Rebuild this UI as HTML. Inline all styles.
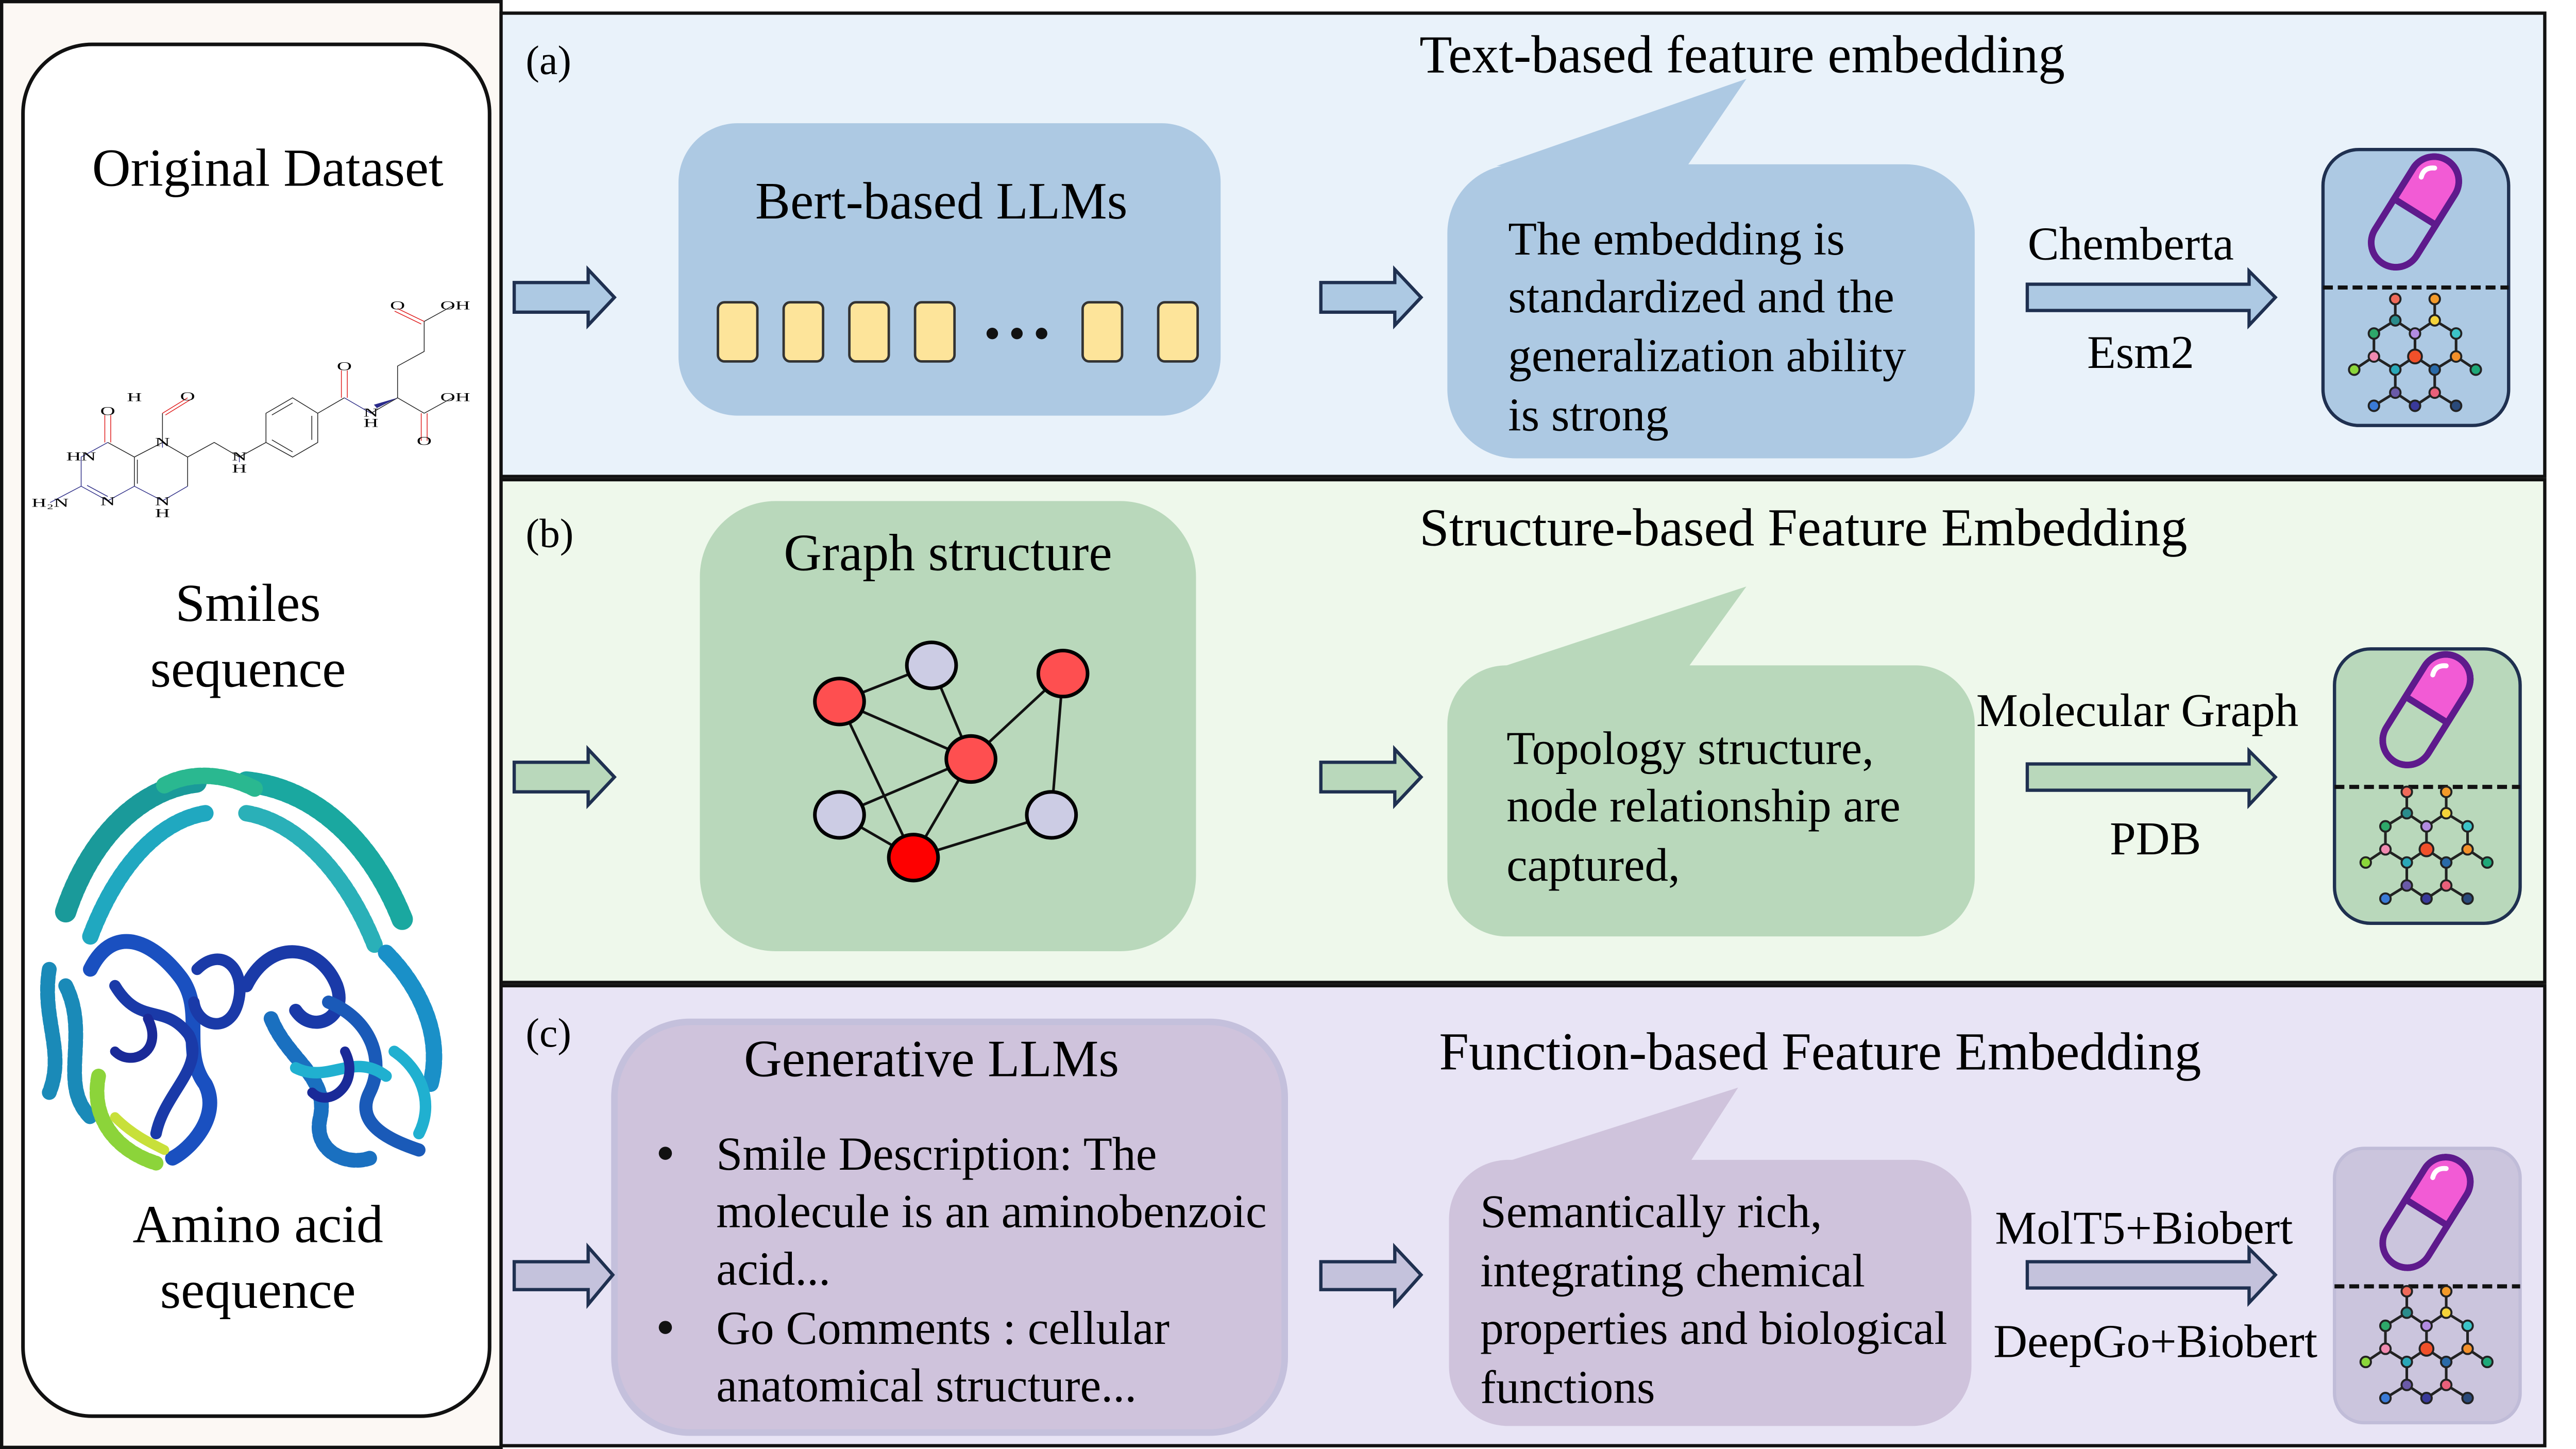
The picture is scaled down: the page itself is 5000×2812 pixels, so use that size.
<!DOCTYPE html>
<html><head><meta charset="utf-8"><style>
html,body{margin:0;padding:0;background:#fff;}
svg{display:block}
text{font-family:"Liberation Serif","Times New Roman",serif;fill:#000}
</style></head><body>
<svg width="5000" height="2812" viewBox="0 0 1568 882" preserveAspectRatio="none" xmlns="http://www.w3.org/2000/svg">
<defs>
<g id="pill">
 <rect x="-37" y="-15" width="74" height="30" rx="15" fill="none" stroke="#5e1a8c" stroke-width="4"/>
 <path d="M0,-15 H22 A15,15 0 0 1 22,15 H0 Z" fill="#f25bd5" stroke="#5e1a8c" stroke-width="4"/>
 <rect x="-37" y="-15" width="74" height="30" rx="15" fill="none" stroke="#5e1a8c" stroke-width="4"/>
 <path d="M20,-8 q6,-2 9,4" fill="none" stroke="#fff" stroke-width="3" stroke-linecap="round"/>
</g>
<g id="mol" stroke="#222" stroke-width="1.6">
 <path d="M-12,-40 V-27 M12,-40 V-27 M-12,-27 L-25,-19 M-12,-27 L0,-19 M12,-27 L0,-19 M12,-27 L25,-19 M-25,-19 V-5 M0,-19 V-5 M25,-19 V-5 M-25,-5 L-12,3 M0,-5 L-12,3 M0,-5 L12,3 M25,-5 L12,3 M-25,-5 L-37,3 M25,-5 L37,3 M-12,3 V17 M12,3 V17 M-12,17 L0,25 M12,17 L0,25 M-12,17 L-25,25 M12,17 L25,25" fill="none"/>
 <g stroke-width="1.2">
 <circle cx="-12" cy="-40" r="3.2" fill="#f06a5a"/><circle cx="12" cy="-40" r="3.2" fill="#f39a2a"/>
 <circle cx="-12" cy="-27" r="3.2" fill="#2a8c8c"/><circle cx="12" cy="-27" r="3.2" fill="#f5d33a"/>
 <circle cx="-25" cy="-19" r="3.2" fill="#2ea86a"/><circle cx="0" cy="-19" r="3.2" fill="#b28be0"/><circle cx="25" cy="-19" r="3.2" fill="#3cc3c8"/>
 <circle cx="-25" cy="-5" r="3.2" fill="#f08ab0"/><circle cx="0" cy="-5" r="4.2" fill="#f0502a"/><circle cx="25" cy="-5" r="3.2" fill="#f3902a"/>
 <circle cx="-37" cy="3" r="3.2" fill="#8bd63a"/><circle cx="-12" cy="3" r="3.2" fill="#2aa8b8"/><circle cx="12" cy="3" r="3.2" fill="#2a6aa8"/><circle cx="37" cy="3" r="3.2" fill="#1ea878"/>
 <circle cx="-12" cy="17" r="3.2" fill="#6a5aa8"/><circle cx="12" cy="17" r="3.2" fill="#e8607a"/>
 <circle cx="-25" cy="25" r="3.2" fill="#3a7ad6"/><circle cx="0" cy="25" r="3.2" fill="#3a3a9a"/><circle cx="25" cy="25" r="3.2" fill="#2a4a7a"/>
 </g>
</g>
</defs>

<!-- left column -->
<rect x="1" y="1" width="304" height="880" fill="#fcf8f4" stroke="#111" stroke-width="2"/>
<rect x="14" y="27" width="284" height="835" rx="42" fill="#fff" stroke="#111" stroke-width="2.2"/>
<text x="163" y="113" font-size="32.5" text-anchor="middle">Original Dataset</text>
<text x="151" y="378" font-size="32.5" text-anchor="middle">Smiles</text>
<text x="151" y="418" font-size="32.5" text-anchor="middle">sequence</text>
<text x="157" y="756" font-size="32.5" text-anchor="middle">Amino acid</text>
<text x="157" y="796" font-size="32.5" text-anchor="middle">sequence</text>

<!-- molecule -->
<g transform="translate(12.5,169) scale(0.18,0.1045)" fill="none">
 <path stroke="#222" stroke-width="1.5" vector-effect="non-scaling-stroke" d="M295,960 L385,1045 L385,1215 M395,1060 L395,1200 M385,1045 L480,960 M480,960 L565,1045 L565,1215 M480,960 L480,790 M565,1045 L655,960 L740,1045 M740,1045 L830,960 L830,790 L920,700 L1005,790 L1005,960 L920,1045 L830,960 M850,800 L920,730 M985,805 L985,945 M850,945 L920,1015 M1005,790 L1095,700 M1185,790 L1275,700 L1275,515 L1365,430 L1365,255 M1275,700 L1365,790 M1365,255 L1460,165 M1365,790 L1460,700"/>
 <path stroke="#33338a" stroke-width="1.5" vector-effect="non-scaling-stroke" d="M295,960 L205,1045 L205,1215 L295,1300 L385,1215 M225,1210 L295,1275 M205,1215 L100,1310 M385,1215 L480,1300 L565,1215 M1095,700 L1185,790 M480,960 L480,990 M740,1045 L740,1075"/>
 <path stroke="#e02020" stroke-width="1.5" vector-effect="non-scaling-stroke" d="M285,960 L285,800 M305,960 L305,800 M480,790 L565,700 M490,800 L575,710 M1085,700 L1085,540 M1105,700 L1105,540 M1365,255 L1275,180 M1355,270 L1265,195 M1355,790 L1355,950 M1375,790 L1375,950"/>
 <path d="M1275,700 L1205,760 L1195,740 Z" fill="#2a2a8a"/>
 <g font-size="70" stroke="none">
  <text x="295" y="800" fill="#e02020" text-anchor="middle">O</text>
  <text x="565" y="715" fill="#e02020" text-anchor="middle">O</text>
  <text x="385" y="720" fill="#333" text-anchor="middle">H</text>
  <text x="1095" y="540" fill="#e02020" text-anchor="middle">O</text>
  <text x="1275" y="185" fill="#e02020" text-anchor="middle">O</text>
  <text x="1470" y="185" fill="#e02020" text-anchor="middle">OH</text>
  <text x="1470" y="720" fill="#e02020" text-anchor="middle">OH</text>
  <text x="1365" y="975" fill="#e02020" text-anchor="middle">O</text>
  <text x="205" y="1065" fill="#33338a" text-anchor="middle">HN</text>
  <text x="100" y="1335" fill="#33338a" text-anchor="middle">H₂N</text>
  <text x="295" y="1325" fill="#33338a" text-anchor="middle">N</text>
  <text x="480" y="1325" fill="#33338a" text-anchor="middle">N</text>
  <text x="480" y="1395" fill="#33338a" text-anchor="middle">H</text>
  <text x="480" y="980" fill="#33338a" text-anchor="middle">N</text>
  <text x="740" y="1065" fill="#33338a" text-anchor="middle">N</text>
  <text x="740" y="1135" fill="#33338a" text-anchor="middle">H</text>
  <text x="1185" y="810" fill="#33338a" text-anchor="middle">N</text>
  <text x="1185" y="870" fill="#33338a" text-anchor="middle">H</text>
 </g>
</g>

<!-- protein -->
<g fill="none" stroke-linecap="round" stroke-linejoin="round">
 <path d="M40,555 C55,510 85,480 120,476" stroke="#1a9a9a" stroke-width="13" stroke-dasharray="3 2"/>
 <path d="M150,476 C190,480 225,510 245,560" stroke="#1aa8a0" stroke-width="13" stroke-dasharray="3 2"/>
 <path d="M55,570 C70,530 95,500 125,495" stroke="#20a8c0" stroke-width="10" stroke-dasharray="3 2"/>
 <path d="M150,495 C180,500 210,530 228,575" stroke="#2ab0b8" stroke-width="10" stroke-dasharray="3 2"/>
 <path d="M100,478 C115,470 135,470 155,480" stroke="#2ab890" stroke-width="10" stroke-dasharray="3 2"/>
 <path d="M30,590 C25,620 40,640 30,665 M40,600 C55,630 35,660 55,680" stroke="#1a8ab8" stroke-width="9" stroke-dasharray="3 2"/>
 <path d="M55,590 C70,560 95,575 110,595 C125,615 110,640 125,660 C135,680 115,700 105,705" stroke="#1a50c0" stroke-width="9"/>
 <path d="M70,600 C85,625 100,610 115,630 C125,650 100,665 95,690" stroke="#1a3aa8" stroke-width="7"/>
 <path d="M60,655 C55,680 70,700 95,708" stroke="#8cd43a" stroke-width="9" stroke-dasharray="3 2"/>
 <path d="M70,680 C80,690 90,695 100,700" stroke="#c8e03a" stroke-width="6"/>
 <path d="M120,590 C135,575 150,590 145,610 C140,630 120,625 118,610" stroke="#1a3aa8" stroke-width="7"/>
 <path d="M150,600 C165,570 195,575 205,600 C212,620 190,630 180,615" stroke="#1a3aa8" stroke-width="8"/>
 <path d="M165,620 C175,645 200,655 195,680 C190,700 210,710 225,705" stroke="#1a70c0" stroke-width="9" stroke-dasharray="3 2"/>
 <path d="M200,610 C225,620 235,645 225,665 C215,685 240,695 255,700" stroke="#1a5ab8" stroke-width="8"/>
 <path d="M235,580 C255,600 270,630 262,660" stroke="#1a90c8" stroke-width="10" stroke-dasharray="3 2"/>
 <path d="M180,650 C200,660 215,640 235,655 M240,640 C255,650 265,670 255,690" stroke="#20b0d0" stroke-width="7"/>
 <path d="M90,620 C100,640 80,650 70,640 M210,640 C220,660 200,675 190,665" stroke="#1a2a98" stroke-width="6"/>
</g>

<!-- Panel a -->
<rect x="305" y="8" width="1244" height="282" fill="#e9f2fa" stroke="#111" stroke-width="2"/>
<text x="320" y="45" font-size="25">(a)</text>
<text x="864" y="44" font-size="32.5">Text-based feature embedding</text>
<rect x="413" y="75" width="330" height="178" rx="36" fill="#adc9e3"/>
<text x="573" y="133" font-size="32" text-anchor="middle">Bert-based LLMs</text>
<g fill="#fde49a" stroke="#333" stroke-width="1.5">
 <rect x="437" y="184" width="24" height="36" rx="4"/><rect x="477" y="184" width="24" height="36" rx="4"/>
 <rect x="517" y="184" width="24" height="36" rx="4"/><rect x="557" y="184" width="24" height="36" rx="4"/>
 <rect x="659" y="184" width="24" height="36" rx="4"/><rect x="705" y="184" width="24" height="36" rx="4"/>
</g>
<g fill="#111"><circle cx="604" cy="203" r="3.5"/><circle cx="619" cy="203" r="3.5"/><circle cx="634" cy="203" r="3.5"/></g>
<path d="M911,101 L1063,48 L1027,101 Z" fill="#adc9e3"/>
<rect x="881" y="100" width="321" height="179" rx="42" fill="#adc9e3"/>
<g font-size="28.6"><text x="918" y="155">The embedding is</text><text x="918" y="190">standardized and the</text><text x="918" y="226">generalization ability</text><text x="918" y="262">is strong</text></g>
<text x="1297" y="158" font-size="28.6" text-anchor="middle">Chemberta</text>
<text x="1303" y="224" font-size="28.6" text-anchor="middle">Esm2</text>

<!-- Panel b -->
<rect x="305" y="292" width="1244" height="306" fill="#eef8eb" stroke="#111" stroke-width="2"/>
<text x="320" y="333" font-size="25">(b)</text>
<text x="864" y="332" font-size="32.5">Structure-based Feature Embedding</text>
<rect x="426" y="305" width="302" height="274" rx="46" fill="#b9d8bb"/>
<text x="577" y="347" font-size="32" text-anchor="middle">Graph structure</text>
<g stroke="#111" stroke-width="1.6">
 <line x1="511" y1="427" x2="567" y2="405"/><line x1="511" y1="427" x2="591" y2="462"/><line x1="511" y1="427" x2="556" y2="522"/>
 <line x1="567" y1="405" x2="591" y2="462"/><line x1="591" y1="462" x2="647" y2="410"/><line x1="591" y1="462" x2="511" y2="496"/>
 <line x1="591" y1="462" x2="556" y2="522"/><line x1="647" y1="410" x2="640" y2="496"/><line x1="511" y1="496" x2="556" y2="522"/>
 <line x1="556" y1="522" x2="640" y2="496"/>
</g>
<g stroke="#000" stroke-width="2.2">
 <ellipse cx="567" cy="405" rx="15" ry="14" fill="#cccce4"/>
 <ellipse cx="511" cy="427" rx="15" ry="14" fill="#fe4f50"/>
 <ellipse cx="647" cy="410" rx="15" ry="14" fill="#fe4f50"/>
 <ellipse cx="591" cy="462" rx="15" ry="14" fill="#fe4f50"/>
 <ellipse cx="511" cy="496" rx="15" ry="14" fill="#cccce4"/>
 <ellipse cx="640" cy="496" rx="15" ry="14" fill="#cccce4"/>
 <ellipse cx="556" cy="522" rx="15" ry="14" fill="#fe0000"/>
</g>
<path d="M911,407 L1063,357 L1027,407 Z" fill="#b9d8bb"/>
<rect x="881" y="405" width="321" height="165" rx="36" fill="#b9d8bb"/>
<g font-size="28.6"><text x="917" y="465">Topology structure,</text><text x="917" y="500">node relationship are</text><text x="917" y="536">captured,</text></g>
<text x="1301" y="442" font-size="28.6" text-anchor="middle">Molecular Graph</text>
<text x="1312" y="520" font-size="28.6" text-anchor="middle">PDB</text>

<!-- Panel c -->
<rect x="305" y="600" width="1244" height="280" fill="#e8e4f5" stroke="#111" stroke-width="2"/>
<text x="320" y="637" font-size="25">(c)</text>
<text x="876" y="651" font-size="32.5">Function-based Feature Embedding</text>
<rect x="374" y="622" width="408" height="250" rx="46" fill="#cfc3dc" stroke="#c4c0dc" stroke-width="4"/>
<text x="567" y="655" font-size="32" text-anchor="middle">Generative LLMs</text>
<g fill="#111"><circle cx="405" cy="702" r="4"/><circle cx="405" cy="808" r="4"/></g>
<g font-size="28.8"><text x="436" y="712">Smile Description: The</text><text x="436" y="747">molecule is an aminobenzoic</text><text x="436" y="782">acid...</text><text x="436" y="818">Go Comments : cellular</text><text x="436" y="853">anatomical structure...</text></g>
<path d="M908,710 L1058,662 L1027,710 Z" fill="#cfc3dc"/>
<rect x="882" y="706" width="318" height="162" rx="36" fill="#cfc3dc"/>
<g font-size="28.6"><text x="901" y="747">Semantically rich,</text><text x="901" y="783">integrating chemical</text><text x="901" y="818">properties and biological</text><text x="901" y="854">functions</text></g>
<text x="1305" y="757" font-size="28.6" text-anchor="middle">MolT5+Biobert</text>
<text x="1312" y="826" font-size="28.6" text-anchor="middle">DeepGo+Biobert</text>

<!-- arrows -->
<g stroke="#1f3050" stroke-width="2" stroke-linejoin="miter">
 <path d="M313,172 H358 V164 L374,181 L358,198 V190 H313 Z" fill="#adc9e3"/>
 <path d="M804,172 H849 V164 L865,181 L849,198 V190 H804 Z" fill="#adc9e3"/>
 <path d="M1234,173 H1369 V165 L1385,181 L1369,198 V189 H1234 Z" fill="#adc9e3"/>
 <path d="M313,464 H358 V456 L374,473 L358,490 V482 H313 Z" fill="#b9d8bb"/>
 <path d="M804,464 H849 V456 L865,473 L849,490 V482 H804 Z" fill="#b9d8bb"/>
 <path d="M1234,465 H1369 V457 L1385,473 L1369,490 V481 H1234 Z" fill="#b9d8bb"/>
 <path d="M313,768 H358 V759 L373,776 L358,794 V785 H313 Z" fill="#c4c2dc"/>
 <path d="M804,768 H849 V759 L865,776 L849,794 V785 H804 Z" fill="#c4c2dc"/>
 <path d="M1234,768 H1369 V760 L1385,776 L1369,793 V784 H1234 Z" fill="#c4c2dc"/>
</g>

<!-- icon boxes -->
<rect x="1414" y="91" width="113" height="168" rx="22" fill="#adc9e3" stroke="#1f3050" stroke-width="2"/>
<line x1="1414" y1="175" x2="1527" y2="175" stroke="#111" stroke-width="2.5" stroke-dasharray="6 3"/>
<use href="#pill" transform="translate(1470,129) rotate(-58)"/>
<use href="#mol" transform="translate(1470,222)"/>

<rect x="1421" y="395" width="113" height="167" rx="22" fill="#b9d8bb" stroke="#1f3050" stroke-width="2"/>
<line x1="1421" y1="479" x2="1534" y2="479" stroke="#111" stroke-width="2.5" stroke-dasharray="6 3"/>
<use href="#pill" transform="translate(1477,432) rotate(-58)"/>
<use href="#mol" transform="translate(1477,522)"/>

<rect x="1421" y="699" width="113" height="167" rx="18" fill="#cbc5dd" stroke="#c0bcd8" stroke-width="2"/>
<line x1="1421" y1="783" x2="1534" y2="783" stroke="#111" stroke-width="2.5" stroke-dasharray="6 3"/>
<use href="#pill" transform="translate(1477,738) rotate(-58)"/>
<use href="#mol" transform="translate(1477,826)"/>
</svg>
</body></html>
